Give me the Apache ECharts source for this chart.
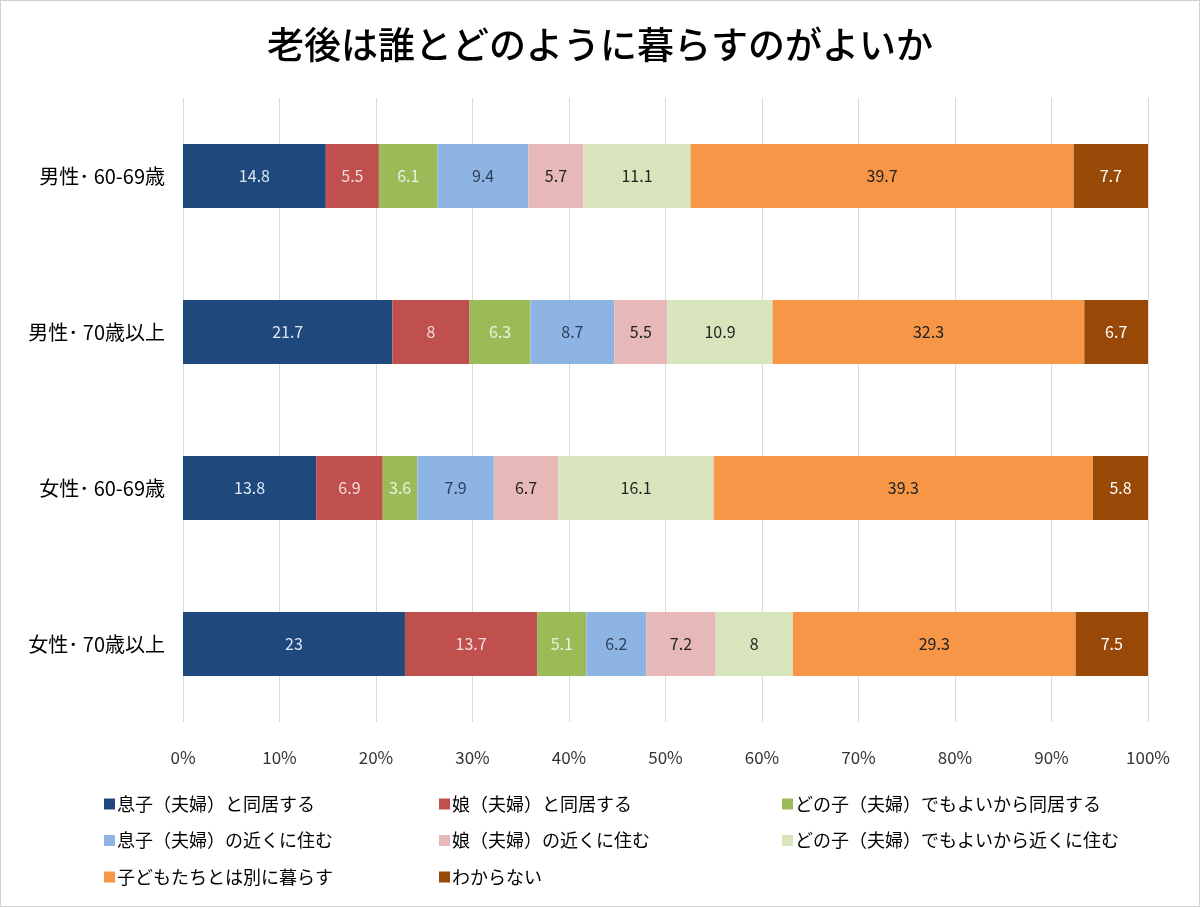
<!DOCTYPE html>
<html>
<head>
<meta charset="utf-8">
<script src="https://cdn.jsdelivr.net/npm/echarts@6/dist/echarts.min.js"></script>
<style>
  html, body { margin: 0; padding: 0; background: #fff; }
  #chart { width: 1200px; height: 907px; box-sizing: border-box; border: 1px solid #d0d0d0; }
</style>
</head>
<body>
<div id="chart"></div>
<script>
const categories = ["男性･ 60-69歳", "男性･ 70歳以上", "女性･ 60-69歳", "女性･ 70歳以上"];
const seriesNames = [
  "息子（夫婦）と同居する",
  "娘（夫婦）と同居する",
  "どの子（夫婦）でもよいから同居する",
  "息子（夫婦）の近くに住む",
  "娘（夫婦）の近くに住む",
  "どの子（夫婦）でもよいから近くに住む",
  "子どもたちとは別に暮らす",
  "わからない"
];
const sonLive = [14.8, 21.7, 13.8, 23];
const daughterLive = [5.5, 8, 6.9, 13.7];
const anyLive = [6.1, 6.3, 3.6, 5.1];
const sonNear = [9.4, 8.7, 7.9, 6.2];
const daughterNear = [5.7, 5.5, 6.7, 7.2];
const anyNear = [11.1, 10.9, 16.1, 8];
const separate = [39.7, 32.3, 39.3, 29.3];
const unknown = [7.7, 6.7, 5.8, 7.5];

const values = [sonLive, daughterLive, anyLive, sonNear, daughterNear, anyNear, separate, unknown];
const colors = ["#1f497d", "#c0504d", "#9bbb59", "#8db4e2", "#e6b9b8", "#d8e4bc", "#f79646", "#984807"];
const labelColors = ["#dce6f2", "#f2dcdb", "#ebf1de", "#2f3f5a", "#222222", "#222222", "#222222", "#ffffff"];

const chart = echarts.init(document.getElementById("chart"));
const font = "'Noto Sans CJK JP', 'Noto Sans', sans-serif";

// one vertical legend per column, so the items read row by row like the original
const legendCol = (names, left) => ({
  data: names,
  orient: "vertical",
  left: left,
  top: 789,
  itemWidth: 11,
  itemHeight: 11,
  itemGap: 18.5,
  icon: "rect",
  selectedMode: false,
  textStyle: { fontSize: 18, color: "#000", fontFamily: font, padding: [0, 0, 0, -3] }
});

chart.setOption({
  animation: false,
  backgroundColor: "#fff",
  title: {
    text: "老後は誰とどのように暮らすのがよいか",
    left: "center",
    top: 20,
    textStyle: { fontSize: 37, fontWeight: 500, color: "#000", fontFamily: font }
  },
  legend: [
    legendCol([seriesNames[0], seriesNames[3], seriesNames[6]], 98),
    legendCol([seriesNames[1], seriesNames[4], seriesNames[7]], 433),
    legendCol([seriesNames[2], seriesNames[5]], 776)
  ],
  grid: { left: 182, right: 51, top: 97, bottom: 184 },
  xAxis: {
    type: "value",
    min: 0,
    max: 100,
    interval: 10,
    axisLabel: {
      formatter: v => v + "%",
      fontSize: 17,
      color: "#333",
      margin: 27,
      fontFamily: font
    },
    axisLine: { show: false },
    axisTick: { show: false },
    splitLine: { lineStyle: { color: "#d9d9d9" } }
  },
  yAxis: {
    type: "category",
    data: categories,
    inverse: true,
    axisLabel: { fontSize: 20, color: "#000", margin: 18, fontFamily: font },
    axisLine: { show: false },
    axisTick: { show: false }
  },
  series: values.map((d, i) => ({
    name: seriesNames[i],
    type: "bar",
    stack: "total",
    barWidth: 64,
    data: d,
    itemStyle: { color: colors[i] },
    label: {
      show: true,
      position: "inside",
      fontSize: 16,
      color: labelColors[i],
      fontFamily: font
    }
  }))
});
</script>
</body>
</html>
